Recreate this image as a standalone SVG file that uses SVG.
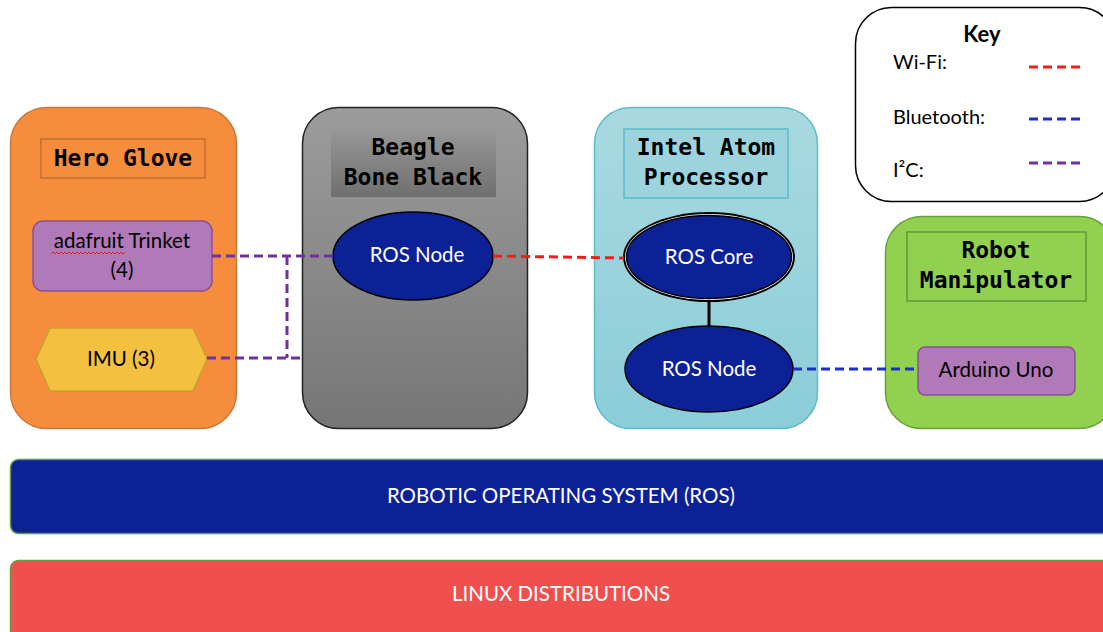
<svg xmlns="http://www.w3.org/2000/svg" width="1103" height="632" viewBox="0 0 1103 632">
<defs>
<linearGradient id="gGray" x1="0" y1="0" x2="0" y2="1"><stop offset="0" stop-color="#9c9c9c"/><stop offset="1" stop-color="#767676"/></linearGradient>
<linearGradient id="gGrayT" x1="0" y1="0" x2="0" y2="1"><stop offset="0" stop-color="#979797"/><stop offset="1" stop-color="#6f6f6f"/></linearGradient>
<linearGradient id="gBlue" x1="0" y1="0" x2="0" y2="1"><stop offset="0" stop-color="#a9d9e0"/><stop offset="1" stop-color="#8bcdd8"/></linearGradient>
<style>
.title{font-family:"DejaVu Sans Mono","Liberation Mono",monospace;font-weight:bold;font-size:23px;fill:#000;text-anchor:middle}
.body{font-family:Lato,"Open Sans",sans-serif;font-size:20.5px;fill:#000;text-anchor:middle}
.white{font-family:Lato,"Open Sans",sans-serif;font-size:20.5px;fill:#fff;text-anchor:middle}
.key{font-family:Lato,"Open Sans",sans-serif;font-size:20px;fill:#000}
.node{fill:#0d2196;stroke:#000;stroke-width:1.5}
.chip{fill:#b07ab8;stroke:#8a5096;stroke-width:1.5}
.dash{fill:none;stroke-width:3;stroke-dasharray:9 5}
.i2c{stroke:#7030a0}
.wifi{stroke:#ff1a1a}
.bt{stroke:#1a2fcc}
</style>
</defs>

<g id="hero-glove">
<rect x="10.5" y="107.5" width="226" height="321" rx="36" fill="#f68d3d" stroke="#c7783a" stroke-width="1.5"/>
<rect x="41" y="139" width="164" height="39" fill="none" stroke="#c0702f" stroke-width="1.5"/>
<text class="title" x="123" y="166">Hero Glove</text>
</g>
<g id="adafruit-trinket">
<rect class="chip" x="33" y="221" width="179" height="70" rx="10"/>
<text class="body" x="122" y="248">adafruit Trinket</text>
<text class="body" x="122" y="277">(4)</text>
<path d="M51 254 l2 -2 l2 2 l2 -2 l2 2 l2 -2 l2 2 l2 -2 l2 2 l2 -2 l2 2 l2 -2 l2 2 l2 -2 l2 2 l2 -2 l2 2 l2 -2 l2 2 l2 -2 l2 2 l2 -2 l2 2 l2 -2 l2 2 l2 -2 l2 2 l2 -2 l2 2 l2 -2 l2 2 l2 -2 l2 2 l2 -2 l2 2 l2 -2 l2 2 l2 -2" fill="none" stroke="#e02020" stroke-width="1"/>
</g>
<g id="imu">
<polygon points="36,359 50,328 193,328 207,359 193,391 50,391" fill="#f3c13f" stroke="#c9a030" stroke-width="1.5"/>
<text class="body" x="121" y="366">IMU (3)</text>
</g>

<g id="beagle-bone-black">
<rect x="302.5" y="107.5" width="225" height="321" rx="36" fill="url(#gGray)" stroke="#222" stroke-width="1.5"/>
<rect x="331" y="130" width="165" height="67" fill="url(#gGrayT)"/>
<text class="title" x="413" y="155">Beagle</text>
<text class="title" x="413" y="185">Bone Black</text>
</g>
<g id="bbb-ros-node">
<ellipse class="node" cx="413" cy="256" rx="80" ry="44"/>
<text class="white" x="417" y="262">ROS Node</text>
</g>

<g id="intel-atom">
<rect x="594.5" y="107.5" width="223" height="321" rx="36" fill="url(#gBlue)" stroke="#5bbccb" stroke-width="1.5"/>
<rect x="624" y="129" width="164" height="69" fill="#9cd3dc" stroke="#5bbccb" stroke-width="1.5"/>
<text class="title" x="706" y="155">Intel Atom</text>
<text class="title" x="706" y="185">Processor</text>
</g>
<g id="ros-core">
<ellipse cx="709" cy="257" rx="86" ry="45" fill="#000"/>
<ellipse cx="709" cy="257" rx="84" ry="43" fill="#fff"/>
<ellipse cx="709" cy="257" rx="82.5" ry="41.5" fill="#0d2196" stroke="#000" stroke-width="1.5"/>
<text class="white" x="709" y="264">ROS Core</text>
</g>
<g id="intel-ros-node">
<ellipse class="node" cx="709" cy="369" rx="84" ry="43"/>
<text class="white" x="709" y="376">ROS Node</text>
</g>

<g id="robot-manipulator">
<rect x="885.5" y="216.5" width="230" height="212" rx="36" fill="#92d050" stroke="#6aa03a" stroke-width="1.5"/>
<rect x="907" y="232" width="179" height="69" fill="none" stroke="#5f9a35" stroke-width="1.5"/>
<text class="title" x="996" y="258">Robot</text>
<text class="title" x="996" y="288">Manipulator</text>
</g>
<g id="arduino-uno">
<rect class="chip" x="918" y="347" width="157" height="48" rx="7"/>
<text class="body" x="996" y="377">Arduino Uno</text>
</g>

<g id="key">
<rect x="855.5" y="7.5" width="260" height="194" rx="36" fill="#fff" stroke="#000" stroke-width="1.5"/>
<text x="982" y="42" font-family="Lato,'Open Sans',sans-serif" font-weight="bold" font-size="22" text-anchor="middle">Key</text>
<text class="key" x="893" y="69">Wi-Fi:</text>
<text class="key" x="893" y="124">Bluetooth:</text>
<text class="key" x="893" y="177">I²C:</text>
<line class="dash wifi" x1="1029" y1="67" x2="1083" y2="67"/>
<line class="dash bt" x1="1029" y1="119" x2="1083" y2="119"/>
<line class="dash i2c" x1="1029" y1="163" x2="1083" y2="163"/>
</g>

<g id="ros-bar">
<rect x="10.5" y="459.5" width="1110" height="74" rx="8" fill="#0d2196" stroke="#6a9a3a" stroke-width="1.5"/>
<text class="white" x="561" y="503">ROBOTIC OPERATING SYSTEM (ROS)</text>
</g>
<g id="linux-bar">
<rect x="10.5" y="560.5" width="1110" height="90" rx="8" fill="#f0504d" stroke="#6a9a3a" stroke-width="1.5"/>
<text class="white" x="561" y="601">LINUX DISTRIBUTIONS</text>
</g>

<g id="connectors">
<polyline class="dash i2c" points="212,256 333,256"/>
<polyline class="dash i2c" points="207,358 302,358"/>
<line class="dash i2c" x1="287" y1="256" x2="287" y2="358"/>
<line class="dash wifi" x1="493" y1="256" x2="624" y2="258"/>
<line class="dash bt" x1="793" y1="369" x2="918" y2="369"/>
<line x1="709" y1="302" x2="709" y2="326" stroke="#000" stroke-width="3"/>
</g>
</svg>
